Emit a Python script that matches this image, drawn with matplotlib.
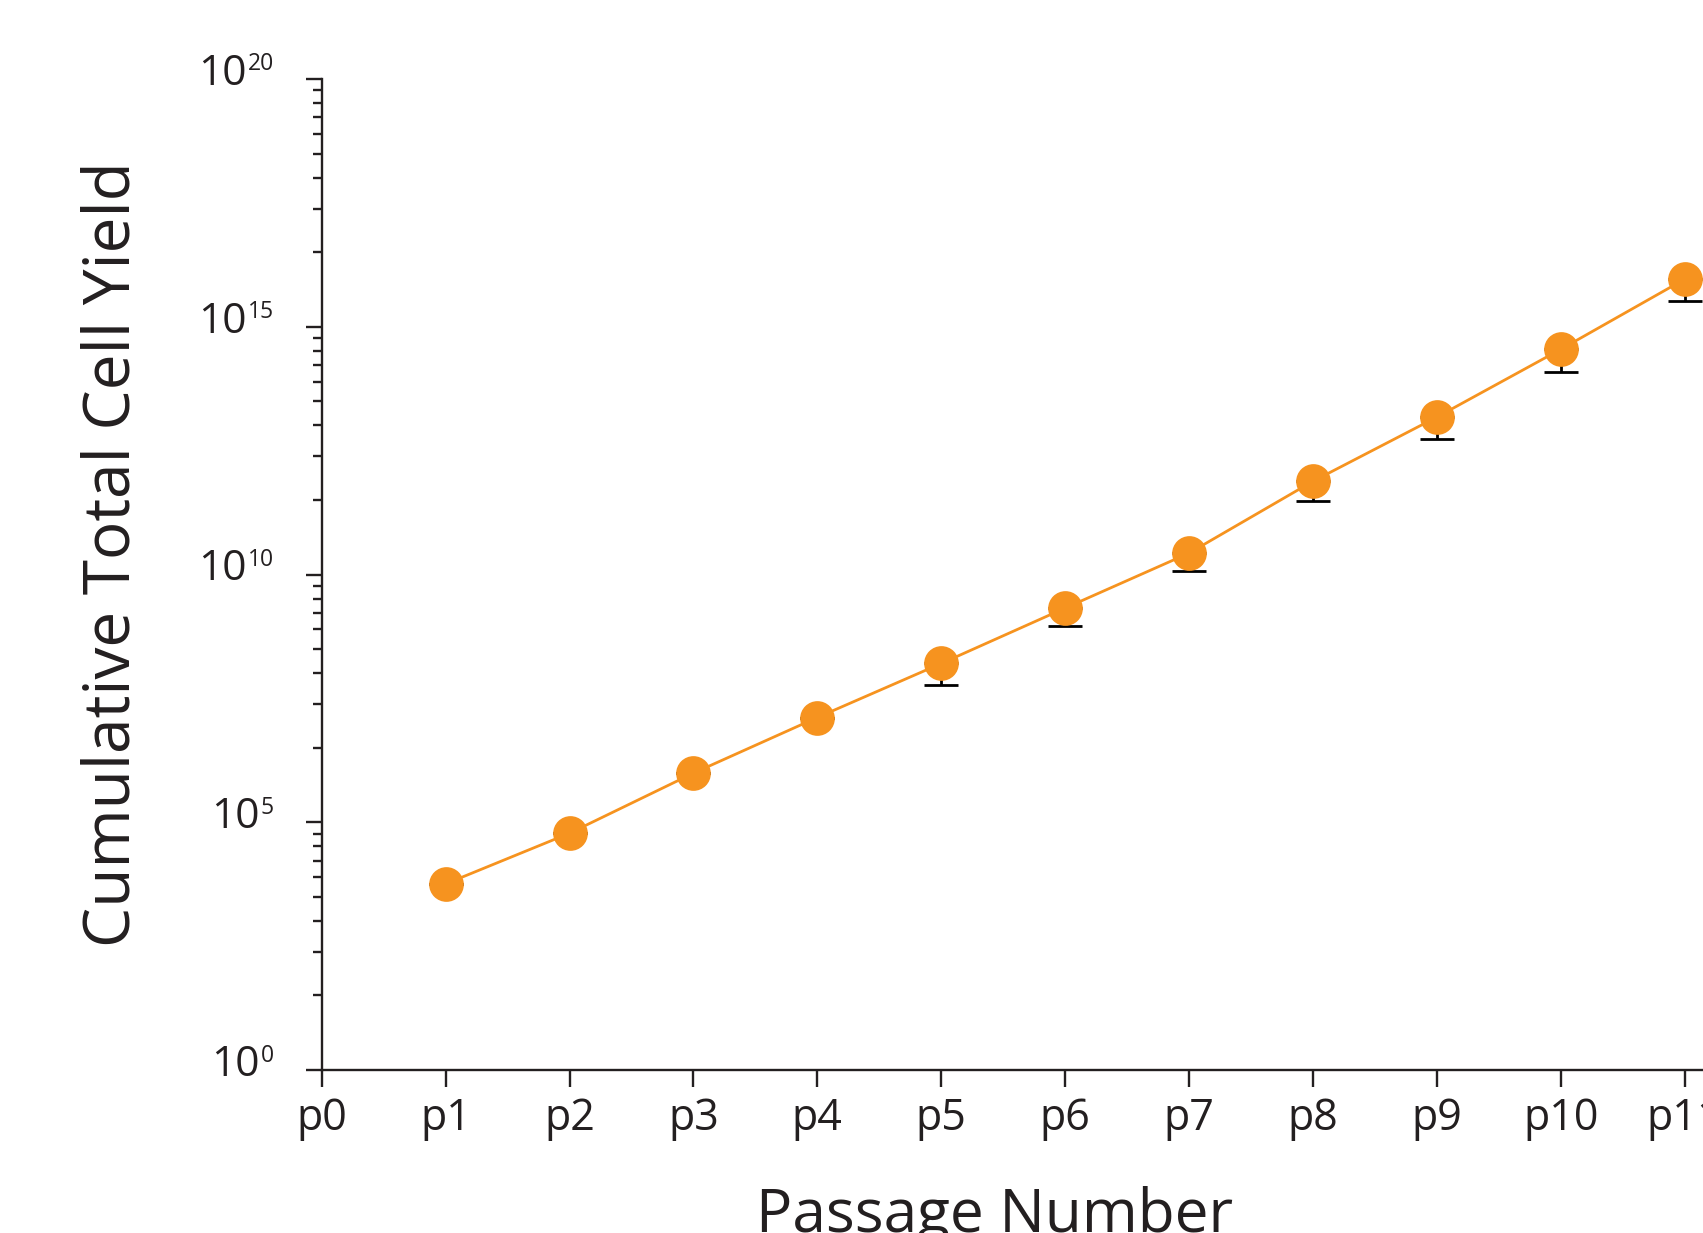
import matplotlib
matplotlib.use("Agg")
import matplotlib.pyplot as plt
from matplotlib.ticker import FixedLocator, NullFormatter
import numpy as np

# ---- data ----
tick_labels = ["p0", "p1", "p2", "p3", "p4", "p5", "p6", "p7", "p8", "p9", "p10", "p11"]
passage = [1, 2, 3, 4, 5, 6, 7, 8, 9, 10, 11]
cum_yield = [5.7e3, 6.0e4, 9.8e5, 1.3e7, 1.6e8, 2.1e9, 2.7e10, 7.6e11, 1.5e13, 3.5e14, 9.1e15]
err_low = [0, 0, 0, 0, 1.0e8, 1.2e9, 1.5e10, 4.5e11, 9.6e12, 2.3e14, 5.8e15]
major_exps = [0, 5, 10, 15, 20]

FONT = "Open Sans"
INK = "#231F20"
ORANGE = "#F6931F"
plt.rcParams["font.family"] = [FONT, "DejaVu Sans"]

W, H = 1703, 1233
fig = plt.figure(figsize=(W / 100, H / 100), dpi=100)
ax_left, ax_bottom_px, ax_top_px = 321.7, 1070, 79
ax = fig.add_axes([ax_left / W, 1 - ax_bottom_px / H, 1 - ax_left / W,
                   (ax_bottom_px - ax_top_px) / H])

ax.set_yscale("log")
ax.set_ylim(1, 1e20)
px_per_pass = 123.9
ax.set_xlim(0, (W - ax_left) / px_per_pass)

# line, error bars, markers
ax.errorbar(passage, cum_yield, yerr=[err_low, np.zeros(len(err_low))], fmt="none",
            ecolor="black", elinewidth=2.0, capsize=12, capthick=2.0, zorder=2)
ax.plot(passage, cum_yield, color=ORANGE, lw=2.0, zorder=3)
ax.plot(passage, cum_yield, "o", color=ORANGE, ms=25, mec="none", zorder=4)

# spines
for s in ["top", "right"]:
    ax.spines[s].set_visible(False)
for s in ["left", "bottom"]:
    ax.spines[s].set_color(INK)
    ax.spines[s].set_linewidth(1.7)

# x ticks
ax.set_xticks(range(len(tick_labels)))
ax.set_xticklabels(tick_labels)
ax.tick_params(axis="x", direction="out", length=12, width=1.7, color=INK,
               labelsize=31, labelcolor=INK, pad=7)

# y ticks
majors = [10.0 ** e for e in major_exps]
minors = [10.0 ** e * k ** 5 for e in major_exps[:-1] for k in range(2, 10)]
ax.yaxis.set_major_locator(FixedLocator(majors))
ax.yaxis.set_minor_locator(FixedLocator(minors))
ax.yaxis.set_major_formatter(NullFormatter())
ax.yaxis.set_minor_formatter(NullFormatter())
ax.tick_params(axis="y", which="major", direction="out", length=11.5, width=1.7, color=INK)
ax.tick_params(axis="y", which="minor", direction="out", length=6.8, width=1.7, color=INK)

# y tick labels: "10" + superscript exponent
trans = ax.get_yaxis_transform()
sups = []
for e, v in zip(major_exps, majors):
    t = ax.annotate(str(e), xy=(0, v), xycoords=trans, xytext=(-48, 8.5),
                    textcoords="offset pixels", ha="right", va="baseline",
                    fontsize=16.5, color=INK, annotation_clip=False)
    sups.append((t, v))
fig.canvas.draw()
r = fig.canvas.get_renderer()
for t, v in sups:
    w = t.get_window_extent(r).width
    ax.annotate("10", xy=(0, v), xycoords=trans, xytext=(-48 - w - 1, -6),
                textcoords="offset pixels", ha="right", va="baseline",
                fontsize=30.5, color=INK, annotation_clip=False)

# axis titles
fig.text(130 / W, 1 - 554 / H, "Cumulative Total Cell Yield", rotation=90,
         rotation_mode="anchor", ha="center", va="baseline", fontsize=46, color=INK)
fig.text(995 / W, 1 - 1232 / H, "Passage Number", ha="center", va="baseline",
         fontsize=43.5, color=INK)

fig.savefig("out.png", dpi=100)
